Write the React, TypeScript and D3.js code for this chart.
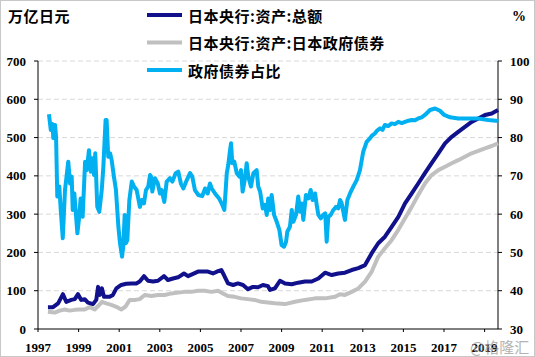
import React from "react";
import * as d3 from "d3";

const W = 535;
const H = 357;

const yearTicks = [1997, 1999, 2001, 2003, 2005, 2007, 2009, 2011, 2013, 2015, 2017, 2019];
const leftTicks = [0, 100, 200, 300, 400, 500, 600, 700];
const rightTicks = [30, 40, 50, 60, 70, 80, 90, 100];

const legendLabels = ["日本央行:资产:总额", "日本央行:资产:日本政府债券", "政府债券占比"];
const seriesColors = ["#11118c", "#c0c0c0", "#00b0f0"];
const leftUnit = "万亿日元";
const rightUnit = "%";
const watermark = "@格隆汇";

// BOJ total assets (trillion yen)
const totalAssets: [number, number][] = [
  [1997.49, 57], [1997.74, 57], [1997.99, 67], [1998.23, 91], [1998.39, 71], [1998.64, 76], [1998.81, 78],
  [1998.97, 91], [1999.13, 76], [1999.3, 78], [1999.46, 69], [1999.71, 65], [1999.87, 76], [1999.96, 110],
  [2000.04, 89], [2000.15, 106], [2000.25, 84], [2000.53, 84], [2000.69, 89], [2000.86, 106], [2001.1, 115],
  [2001.35, 118], [2001.6, 119], [2001.84, 119], [2002.01, 124], [2002.22, 138], [2002.42, 126], [2002.67, 124],
  [2002.91, 126], [2003.21, 138], [2003.4, 128], [2003.65, 132], [2003.9, 135], [2004.19, 145], [2004.39, 138],
  [2004.64, 144], [2004.88, 150], [2005.13, 150], [2005.37, 150], [2005.62, 145], [2005.87, 151], [2006.03, 154],
  [2006.16, 141], [2006.36, 119], [2006.61, 115], [2006.85, 119], [2007.1, 115], [2007.34, 104], [2007.59, 110],
  [2007.84, 109], [2008.08, 115], [2008.33, 112], [2008.43, 102], [2008.67, 106], [2008.92, 126], [2009.17, 119],
  [2009.5, 117], [2009.82, 121], [2010.15, 124], [2010.48, 124], [2010.81, 132], [2011.14, 147], [2011.47, 141],
  [2011.79, 145], [2012.12, 147], [2012.45, 154], [2012.78, 159], [2013.11, 167], [2013.44, 198], [2013.76, 224],
  [2014.09, 241], [2014.42, 267], [2014.75, 293], [2015.08, 328], [2015.41, 354], [2015.73, 380], [2016.06, 407],
  [2016.39, 433], [2016.72, 459], [2017.05, 485], [2017.38, 502], [2017.7, 515], [2018.03, 528], [2018.36, 541],
  [2018.69, 550], [2019.02, 559], [2019.35, 563], [2019.66, 572],
];

// BOJ holdings of Japanese government bonds (trillion yen)
const jgbHoldings: [number, number][] = [
  [1997.49, 45], [1997.82, 43], [1998.07, 48], [1998.32, 51], [1998.56, 48], [1998.81, 50], [1999.05, 51],
  [1999.3, 51], [1999.55, 57], [1999.79, 51], [1999.96, 60], [2000.15, 71], [2000.36, 67], [2000.61, 63],
  [2000.86, 58], [2001.1, 51], [2001.3, 58], [2001.52, 76], [2001.76, 76], [2002.01, 78], [2002.26, 89],
  [2002.58, 86], [2002.91, 89], [2003.24, 89], [2003.57, 93], [2003.9, 95], [2004.23, 97], [2004.55, 97],
  [2004.88, 100], [2005.21, 100], [2005.54, 97], [2005.87, 100], [2006.11, 93], [2006.36, 86], [2006.69, 84],
  [2007.01, 80], [2007.34, 78], [2007.67, 76], [2008.0, 71], [2008.33, 69], [2008.67, 67], [2009.17, 65],
  [2009.66, 71], [2010.15, 76], [2010.65, 80], [2011.14, 80], [2011.63, 84], [2011.88, 91], [2012.12, 89],
  [2012.45, 97], [2012.78, 106], [2013.11, 124], [2013.44, 150], [2013.76, 189], [2014.09, 211], [2014.42, 232],
  [2014.75, 259], [2015.08, 289], [2015.41, 319], [2015.73, 350], [2016.06, 380], [2016.39, 402], [2016.72, 415],
  [2017.05, 424], [2017.38, 433], [2017.7, 441], [2018.03, 450], [2018.36, 459], [2018.69, 465], [2019.02, 472],
  [2019.35, 478], [2019.66, 485],
];

// JGB share of total assets (%)
const jgbShare: [number, number][] = [
  [1997.54, 86.1], [1997.63, 82.0], [1997.72, 83.5], [1997.75, 79.9], [1997.84, 83.3], [1997.89, 80.2],
  [1997.95, 64.6], [1998.05, 67.2], [1998.12, 61.1], [1998.22, 53.7], [1998.33, 66.3], [1998.49, 73.7],
  [1998.58, 68.0], [1998.66, 69.8], [1998.71, 61.1], [1998.79, 65.4], [1998.94, 55.0], [1999.03, 59.3],
  [1999.1, 64.1], [1999.2, 59.3], [1999.32, 73.7], [1999.4, 71.5], [1999.51, 76.7], [1999.6, 71.1],
  [1999.67, 74.6], [1999.76, 70.2], [1999.82, 75.9], [1999.92, 61.9], [2000.02, 60.6], [2000.14, 66.3],
  [2000.22, 72.4], [2000.33, 84.6], [2000.38, 84.6], [2000.46, 75.0], [2000.55, 75.9], [2000.63, 74.1],
  [2000.74, 69.8], [2000.84, 66.3], [2000.96, 56.7], [2001.04, 52.4], [2001.14, 48.9], [2001.2, 51.5],
  [2001.27, 59.8], [2001.33, 52.4], [2001.4, 53.2], [2001.5, 63.7], [2001.62, 68.5], [2001.73, 67.2],
  [2001.86, 66.3], [2002.02, 61.9], [2002.11, 63.7], [2002.22, 62.8], [2002.32, 66.3], [2002.43, 67.2],
  [2002.52, 70.2], [2002.57, 69.8], [2002.63, 65.9], [2002.76, 69.4], [2002.9, 68.0], [2003.01, 65.4],
  [2003.09, 66.3], [2003.22, 63.2], [2003.34, 68.5], [2003.5, 69.4], [2003.62, 68.5], [2003.78, 70.7],
  [2003.91, 71.1], [2004.04, 68.0], [2004.16, 66.7], [2004.33, 68.9], [2004.49, 70.7], [2004.6, 69.8],
  [2004.73, 66.3], [2004.9, 65.0], [2005.09, 64.7], [2005.23, 66.7], [2005.36, 65.4], [2005.47, 68.0],
  [2005.56, 66.7], [2005.72, 65.4], [2005.92, 64.1], [2006.08, 62.4], [2006.18, 61.1], [2006.3, 70.7],
  [2006.37, 72.8], [2006.46, 76.7], [2006.51, 78.5], [2006.57, 73.3], [2006.67, 73.7], [2006.79, 70.7],
  [2006.92, 69.8], [2007.0, 71.5], [2007.08, 65.9], [2007.2, 69.4], [2007.28, 73.3], [2007.36, 69.8],
  [2007.49, 67.2], [2007.61, 70.7], [2007.77, 71.5], [2007.85, 67.2], [2007.94, 65.9], [2008.07, 61.5],
  [2008.18, 62.4], [2008.27, 59.8], [2008.34, 64.1], [2008.43, 61.1], [2008.51, 65.0], [2008.63, 59.8],
  [2008.76, 58.0], [2008.89, 55.9], [2009.0, 51.9], [2009.12, 51.5], [2009.22, 52.8], [2009.28, 55.4],
  [2009.41, 56.7], [2009.5, 61.1], [2009.58, 58.0], [2009.71, 59.8], [2009.82, 64.6], [2009.91, 60.6],
  [2009.99, 62.8], [2010.07, 58.5], [2010.2, 65.0], [2010.32, 64.1], [2010.43, 66.3], [2010.53, 63.7],
  [2010.65, 65.4], [2010.73, 62.4], [2010.81, 59.8], [2010.93, 58.9], [2011.05, 59.8], [2011.15, 60.2],
  [2011.22, 52.8], [2011.3, 59.3], [2011.42, 59.8], [2011.55, 61.1], [2011.68, 61.9], [2011.79, 61.5],
  [2011.88, 63.7], [2011.96, 62.8], [2012.07, 59.8], [2012.12, 58.5], [2012.24, 63.7], [2012.37, 65.4],
  [2012.53, 67.2], [2012.7, 68.9], [2012.86, 71.5], [2013.02, 76.3], [2013.1, 77.5], [2013.19, 78.9],
  [2013.35, 79.8], [2013.47, 80.6], [2013.6, 81.1], [2013.72, 81.9], [2013.85, 82.4], [2013.97, 82.0],
  [2014.09, 83.3], [2014.25, 83.0], [2014.42, 83.7], [2014.58, 83.5], [2014.75, 84.1], [2014.92, 83.8],
  [2015.08, 84.1], [2015.25, 84.4], [2015.41, 84.6], [2015.57, 84.5], [2015.73, 85.0], [2015.9, 85.3],
  [2016.06, 85.9], [2016.31, 87.2], [2016.56, 87.6], [2016.8, 87.0], [2017.01, 85.9], [2017.3, 85.3],
  [2017.7, 85.0], [2018.2, 85.0], [2018.69, 85.0], [2019.18, 84.6], [2019.68, 84.3],
];

const plot = { left: 38, right: 498, top: 61, bottom: 329 };

const tickStyle: React.CSSProperties = {
  fontFamily: '"Liberation Serif", "Times New Roman", "DejaVu Serif", serif',
  fontWeight: 700,
  fontSize: "13px",
};
const cjkStyle: React.CSSProperties = {
  fontFamily: '"Noto Sans CJK SC", sans-serif',
  fontWeight: 700,
  fontSize: "15px",
  letterSpacing: "0.5px",
};

export default function App() {
  const x = d3.scaleLinear().domain([1997, 2019.66]).range([plot.left, plot.right]);
  const yL = d3.scaleLinear().domain([0, 700]).range([plot.bottom, plot.top]);
  const yR = d3.scaleLinear().domain([30, 100]).range([plot.bottom, plot.top]);

  const lineL = d3.line<[number, number]>().x((d) => x(d[0])).y((d) => yL(d[1]));
  const lineR = d3.line<[number, number]>().x((d) => x(d[0])).y((d) => yR(d[1]));

  return (
    <>
      <style>{`body{margin:0;}`}</style>
      <svg width={W} height={H} style={{ display: "block" }}>
        <rect x={0} y={0} width={W} height={H} fill="#ffffff" />
        <rect x={0.5} y={0.5} width={W - 1} height={H - 1} fill="none" stroke="#c8c8c8" />

        {/* gridlines */}
        {leftTicks.filter((t) => t > 0).map((t) => (
          <line key={"g" + t} x1={plot.left} x2={plot.right} y1={yL(t)} y2={yL(t)}
            stroke="#d9d9d9" strokeWidth={1} strokeDasharray="5,3" />
        ))}

        {/* axes */}
        <line x1={plot.left} x2={plot.left} y1={plot.top} y2={plot.bottom} stroke="#000" strokeWidth={1} />
        <line x1={plot.right} x2={plot.right} y1={plot.top} y2={plot.bottom} stroke="#000" strokeWidth={1} />
        <line x1={plot.left} x2={plot.right} y1={plot.bottom} y2={plot.bottom} stroke="#000" strokeWidth={1} />

        {leftTicks.map((t) => (
          <g key={"l" + t}>
            <line x1={plot.left - 4} x2={plot.left} y1={yL(t)} y2={yL(t)} stroke="#000" />
            <text x={26} y={yL(t)} textAnchor="end" dominantBaseline="central" style={tickStyle}>{t}</text>
          </g>
        ))}
        {rightTicks.map((t) => (
          <g key={"r" + t}>
            <line x1={plot.right} x2={plot.right + 4} y1={yR(t)} y2={yR(t)} stroke="#000" />
            <text x={510} y={yR(t)} textAnchor="start" dominantBaseline="central" style={tickStyle}>{t}</text>
          </g>
        ))}
        {yearTicks.map((t) => (
          <g key={"x" + t}>
            <line x1={x(t)} x2={x(t)} y1={plot.bottom} y2={plot.bottom + 3} stroke="#000" />
            <text x={x(t)} y={347} textAnchor="middle" dominantBaseline="central" style={tickStyle}>{t}</text>
          </g>
        ))}

        {/* series */}
        <path d={lineL(jgbHoldings) || ""} fill="none" stroke={seriesColors[1]} strokeWidth={4} strokeLinejoin="round" />
        <path d={lineL(totalAssets) || ""} fill="none" stroke={seriesColors[0]} strokeWidth={4} strokeLinejoin="round" />
        <path d={lineR(jgbShare) || ""} fill="none" stroke={seriesColors[2]} strokeWidth={4} strokeLinejoin="round" />

        {/* units */}
        <text x={8} y={15} dominantBaseline="central" style={cjkStyle}>{leftUnit}</text>
        <text x={512} y={16} dominantBaseline="central" style={{ ...tickStyle, fontSize: "14px" }}>{rightUnit}</text>

        {/* legend */}
        {legendLabels.map((lab, i) => (
          <g key={lab}>
            <line x1={147} x2={182} y1={15 + i * 27.5} y2={15 + i * 27.5} stroke={seriesColors[i]} strokeWidth={4} />
            <text x={188} y={15 + i * 27.5} dominantBaseline="central" style={cjkStyle}>{lab}</text>
          </g>
        ))}

        <text x={470} y={346} dominantBaseline="central"
          style={{ fontFamily: '"Noto Sans CJK SC", sans-serif', fontSize: "15px" }}
          fill="#9a9a9a" opacity={0.75}>{watermark}</text>
      </svg>
    </>
  );
}
